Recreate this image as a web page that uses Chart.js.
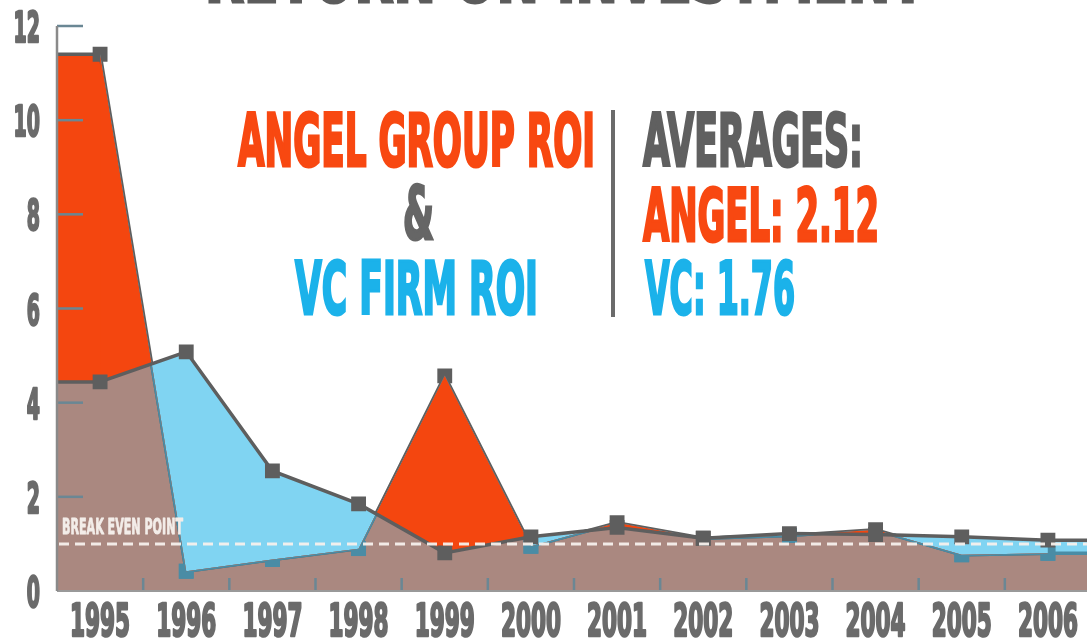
<!DOCTYPE html>
<html>
<head>
<meta charset="UTF-8">
<title>Return on Investment</title>
<style>
body {
	margin: 0;
	background-color: #ffffff;
	overflow: hidden;
	width: 1087px;
	height: 642px;
	position: relative;
}
#wrap {
	position: absolute;
	left: 0;
	top: 0;
	width: 1100px;
	height: 642px;
}
.txt {
	position: absolute;
	font-family: 'DejaVu Sans Condensed', 'DejaVu Sans', sans-serif;
	font-stretch: condensed;
	font-weight: bold;
	font-size: 73px;
	line-height: 1;
	white-space: nowrap;
	transform-origin: left top;
	-webkit-text-stroke: 3px currentColor;
}
.divider {
	position: absolute;
	left: 611px;
	top: 110px;
	width: 4px;
	height: 207px;
	background-color: #6b6b6b;
}
</style>
<script src="https://cdn.jsdelivr.net/npm/chart.js"></script>
</head>
<body>
	<div id="wrap">
		<canvas id="roiChart" width="1100" height="642"></canvas>
	</div>
	<div class="txt" data-w="720" style="left:205px; top:-60px; color:#5c5c5c;">RETURN ON INVESTMENT</div>
	<div class="txt" data-w="357" style="left:238px; top:104px; color:#f84811;">ANGEL GROUP ROI</div>
	<div class="txt" data-w="31" style="left:403px; top:177px; color:#666666;">&amp;</div>
	<div class="txt" data-w="243" style="left:295px; top:252px; color:#1bb2ea;">VC FIRM ROI</div>
	<div class="divider"></div>
	<div class="txt" data-w="220" style="left:643px; top:104px; color:#606060;">AVERAGES:</div>
	<div class="txt" data-w="236" style="left:643px; top:179px; color:#f84811;">ANGEL: 2.12</div>
	<div class="txt" data-w="150" style="left:645px; top:252px; color:#1bb2ea;">VC: 1.76</div>
<script>
// values
const years = ['1995', '1996', '1997', '1998', '1999', '2000', '2001', '2002', '2003', '2004', '2005', '2006'];
const angelRoi = [11.4, 0.42, 0.67, 0.9, 4.57, 0.95, 1.45, 1.12, 1.18, 1.3, 0.77, 0.8];
const vcRoi = [4.44, 5.08, 2.55, 1.85, 0.81, 1.15, 1.35, 1.12, 1.22, 1.2, 1.15, 1.08];
const yTicks = [0, 2, 4, 6, 8, 10, 12];
const breakEven = 1.0;

const ORANGE = '#f4460f';
const BLUE = '#80d4f2';
const BROWN = '#aa8880';
const LINE = '#5e5e5e';
const TEAL = '#4a8ca5';
const LABEL = '#6b6b6b';
const FONT = "'DejaVu Sans Condensed', 'DejaVu Sans', sans-serif";

// squeeze the overlay texts to the condensed look of the original
document.querySelectorAll('.txt').forEach(function(el) {
	var w = el.getBoundingClientRect().width;
	el.style.transform = 'scaleX(' + (parseFloat(el.dataset.w) / w) + ')';
});

function condensedText(ctx, text, x, baseline, sx, align, stroke) {
	ctx.save();
	ctx.translate(x, baseline);
	ctx.scale(sx, 1);
	ctx.textAlign = align;
	ctx.textBaseline = 'alphabetic';
	ctx.fillText(text, 0, 0);
	if (stroke) {
		ctx.lineWidth = stroke;
		ctx.lineJoin = 'round';
		ctx.strokeStyle = ctx.fillStyle;
		ctx.strokeText(text, 0, 0);
	}
	ctx.restore();
}

// flat run of the areas from a data point out to the chart edge
function flatEnd(chart, idx, edge) {
	const {ctx, chartArea: a, scales: {x, y}} = chart;
	const px = x.getPixelForValue(idx);
	const l = Math.floor(Math.min(px, edge)) - 1;
	const r = Math.ceil(Math.max(px, edge)) + 1;
	const lo = Math.min(angelRoi[idx], vcRoi[idx]);
	const hi = Math.max(angelRoi[idx], vcRoi[idx]);
	ctx.fillStyle = BROWN;
	ctx.fillRect(l, y.getPixelForValue(lo), r - l, a.bottom - y.getPixelForValue(lo));
	ctx.fillStyle = angelRoi[idx] > vcRoi[idx] ? ORANGE : BLUE;
	ctx.fillRect(l, y.getPixelForValue(hi), r - l, y.getPixelForValue(lo) - y.getPixelForValue(hi));
	ctx.lineWidth = 3.5;
	[[lo, angelRoi[idx] < vcRoi[idx] ? TEAL : LINE], [hi, LINE]].forEach(function(p) {
		ctx.strokeStyle = p[1];
		ctx.beginPath();
		ctx.moveTo(px, y.getPixelForValue(p[0]));
		ctx.lineTo(edge, y.getPixelForValue(p[0]));
		ctx.stroke();
	});
}

let endsDone = false;

const extras = {
	id: 'extras',
	beforeDatasetsDraw() {
		endsDone = false;
	},
	beforeDatasetDraw(chart) {
		// after all area fills, before the first line is stroked
		if (endsDone) return;
		endsDone = true;
		const a = chart.chartArea;
		chart.ctx.save();
		flatEnd(chart, 0, a.left);
		flatEnd(chart, years.length - 1, a.right);
		chart.ctx.restore();
	},
	afterDatasetDraw(chart, args) {
		// the angel line turns teal where it runs under the blue area
		if (args.index !== 1) return;
		const pts = args.meta.data;
		const ctx = chart.ctx;
		ctx.save();
		ctx.strokeStyle = TEAL;
		ctx.lineWidth = 3.5;
		for (let i = 0; i < pts.length - 1; i++) {
			const d0 = angelRoi[i] - vcRoi[i], d1 = angelRoi[i + 1] - vcRoi[i + 1];
			if (d0 >= 0 && d1 >= 0) continue;
			let t0 = 0, t1 = 1;
			if (d0 >= 0) t0 = d0 / (d0 - d1);
			if (d1 >= 0) t1 = d0 / (d0 - d1);
			const p = pts[i], q = pts[i + 1];
			ctx.beginPath();
			ctx.moveTo(p.x + (q.x - p.x) * t0, p.y + (q.y - p.y) * t0);
			ctx.lineTo(p.x + (q.x - p.x) * t1, p.y + (q.y - p.y) * t1);
			ctx.stroke();
		}
		pts.forEach(function(pt, i) {
			if (angelRoi[i] < vcRoi[i]) pt.draw(ctx, chart.chartArea);
		});
		ctx.restore();
	},
	afterDatasetsDraw(chart) {
		const {ctx, chartArea: a, scales: {x, y}} = chart;
		ctx.save();
		// inner tick marks
		ctx.strokeStyle = '#6a8794';
		ctx.lineWidth = 2.5;
		yTicks.forEach(function(v) {
			if (v === 0) return;
			const py = y.getPixelForValue(v);
			ctx.beginPath();
			ctx.moveTo(a.left, py);
			ctx.lineTo(a.left + 26, py);
			ctx.stroke();
		});
		for (let i = 1; i < years.length; i++) {
			const px = (x.getPixelForValue(i - 1) + x.getPixelForValue(i)) / 2;
			ctx.beginPath();
			ctx.moveTo(px, a.bottom);
			ctx.lineTo(px, a.bottom - 13);
			ctx.stroke();
		}
		// axis lines
		ctx.strokeStyle = '#999999';
		ctx.lineWidth = 2;
		ctx.beginPath();
		ctx.moveTo(a.left, a.bottom);
		ctx.lineTo(a.right, a.bottom);
		ctx.stroke();
		ctx.strokeStyle = '#8a8a8a';
		ctx.lineWidth = 2.5;
		ctx.beginPath();
		ctx.moveTo(a.left, y.getPixelForValue(12));
		ctx.lineTo(a.left, a.bottom);
		ctx.stroke();
		// break even line
		const be = y.getPixelForValue(breakEven);
		ctx.strokeStyle = 'rgba(246, 240, 236, 0.95)';
		ctx.lineWidth = 3;
		ctx.setLineDash([10, 6]);
		ctx.beginPath();
		ctx.moveTo(a.left + 2, be);
		ctx.lineTo(a.right, be);
		ctx.stroke();
		ctx.setLineDash([]);
		ctx.fillStyle = '#f3ede9';
		ctx.font = 'bold 21px ' + FONT;
		const sxb = 121 / ctx.measureText('BREAK EVEN POINT').width;
		condensedText(ctx, 'BREAK EVEN POINT', a.left + 5, be - 10, sxb, 'left', 0.8);
		ctx.restore();
	},
	afterDraw(chart) {
		// tick labels in a tall narrow face
		const {ctx, chartArea: a, scales: {x, y}} = chart;
		ctx.save();
		ctx.fillStyle = LABEL;
		ctx.font = 'bold 44px ' + FONT;
		const sx = 60 / ctx.measureText('1995').width;
		years.forEach(function(lab, i) {
			condensedText(ctx, lab, x.getPixelForValue(i), a.bottom + 45, sx, 'center', 2.5);
		});
		ctx.font = 'bold 43px ' + FONT;
		yTicks.forEach(function(v) {
			condensedText(ctx, String(v), 40, y.getPixelForValue(v) + 16, sx * 0.9, 'right', 2.5);
		});
		ctx.restore();
	}
};

const ctx = document.getElementById('roiChart').getContext('2d');
const roiChart = new Chart(ctx, {
	type: 'line',
	data: {
		labels: years,
		datasets: [{
			label: 'VC Firm ROI',
			data: vcRoi,
			borderColor: LINE,
			borderWidth: 3.5,
			pointStyle: 'rect',
			pointRadius: 10.5,
			pointBorderWidth: 0,
			pointBackgroundColor: LINE,
			fill: {target: 1, above: BLUE, below: ORANGE},
			tension: 0
		}, {
			label: 'Angel Group ROI',
			data: angelRoi,
			borderColor: LINE,
			backgroundColor: BROWN,
			borderWidth: 3.5,
			pointStyle: 'rect',
			pointRadius: 10.5,
			pointBorderWidth: 0,
			pointBackgroundColor: function(c) {
				const i = c.dataIndex;
				return angelRoi[i] < vcRoi[i] ? TEAL : LINE;
			},
			fill: 'origin',
			tension: 0
		}]
	},
	options: {
		responsive: false,
		animation: false,
		layout: {autoPadding: false, padding: {left: 57, top: 26, right: 9, bottom: 51}},
		plugins: {
			legend: {display: false},
			tooltip: {enabled: false}
		},
		scales: {
			x: {
				display: false,
				offset: true
			},
			y: {
				display: false,
				min: 0,
				max: 12,
				ticks: {stepSize: 2}
			}
		}
	},
	plugins: [extras]
});
</script>
</body>
</html>
